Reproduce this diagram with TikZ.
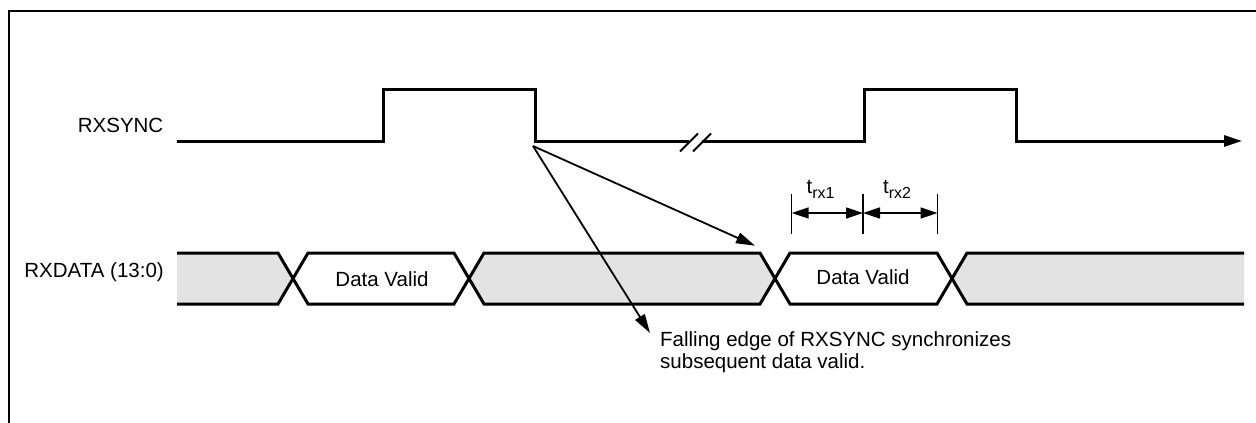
\documentclass[tikz,border=0pt]{standalone}
\usepackage{fontspec}
\setmainfont{Liberation Sans}
\usetikzlibrary{arrows.meta}
\begin{document}
\begin{tikzpicture}[x=1pt,y=-1pt,
  sig/.style={line width=3pt, line join=miter},
  shade/.style={fill=black!11},
  lbl/.style={font=\fontsize{20.5}{21.5}\selectfont, inner sep=0pt},
  pointer/.style={line width=1.8pt, -{Triangle[length=19pt,width=11pt]}},
  dimarrow/.style={line width=1.5pt, {Triangle[length=17pt,width=11pt]}-{Triangle[length=17pt,width=11pt]}},
  tick/.style={line width=1.5pt},
  frameline/.style={line width=2pt}]
\useasboundingbox (0,0) rectangle (1256,423);
% frame
\draw[frameline] (9,440) -- (9,10.5) -- (1270,10.5);
% labels
\node[lbl, anchor=base east] (lsync) at (163.5,132) {RXSYNC};
\node[lbl, anchor=base east] (ldata) at (164,277) {RXDATA (13:0)};
% RXSYNC waveform
\draw[sig] (177,141) -- (383,141) -- (383,89.5) -- (535.5,89.5) -- (535.5,141) -- (689,141);
\draw[sig, -{Triangle[length=18pt,width=11pt]}] (702,141) -- (864,141) -- (864,89.5) -- (1016.7,89.5) -- (1016.7,141) -- (1242,141);
\draw[line width=2pt] (680,151.5) -- (698,133.5);
\draw[line width=2pt] (693,151.5) -- (711,133.5);
% RXDATA bus
\fill[shade] (177,253) -- (278,253) -- (293,278.5) -- (278,304) -- (177,304) -- cycle;
\fill[shade] (469,278.5) -- (484,253) -- (760,253) -- (775,278.5) -- (760,304) -- (484,304) -- cycle;
\fill[shade] (952,278.5) -- (967,253) -- (1244,253) -- (1244,304) -- (967,304) -- cycle;
\draw[sig] (177,253) -- (278,253) -- (308,304) -- (454,304) -- (484,253) -- (760,253) -- (790,304) -- (937,304) -- (967,253) -- (1244,253);
\draw[sig] (177,304) -- (278,304) -- (308,253) -- (454,253) -- (484,304) -- (760,304) -- (790,253) -- (937,253) -- (967,304) -- (1244,304);
\node[lbl, anchor=base] (dv1) at (382,286.5) {Data Valid};
\node[lbl, anchor=base] (dv2) at (863,284) {Data Valid};
% timing dimensions
\coordinate (ta) at (791.7,213);
\coordinate (tb) at (863,213);
\coordinate (tc) at (937.5,213);
\draw[tick] (791.7,194) -- (791.7,234);
\draw[tick] (863,194) -- (863,234);
\draw[tick] (937.5,194) -- (937.5,234);
\draw[dimarrow] (ta) -- (tb);
\draw[dimarrow] (tb) -- (tc);
\node[lbl, anchor=base west] (t1) at (806.5,193.3) {t\raisebox{-5pt}{\fontsize{16}{16}\selectfont rx1}};
\node[lbl, anchor=base west] (t2) at (883,193.3) {t\raisebox{-5pt}{\fontsize{16}{16}\selectfont rx2}};
% annotation
\node[lbl, anchor=north west, align=left] (note) at (660,331.7) {Falling edge of RXSYNC synchronizes\\subsequent data valid.};
\coordinate (fe) at (533,146);
\coordinate (tip1) at (755,245.7);
\coordinate (tip2) at (650,333);
\draw[pointer] (fe) -- (tip1);
\draw[pointer] (fe) -- (tip2);
\end{tikzpicture}
\end{document}
